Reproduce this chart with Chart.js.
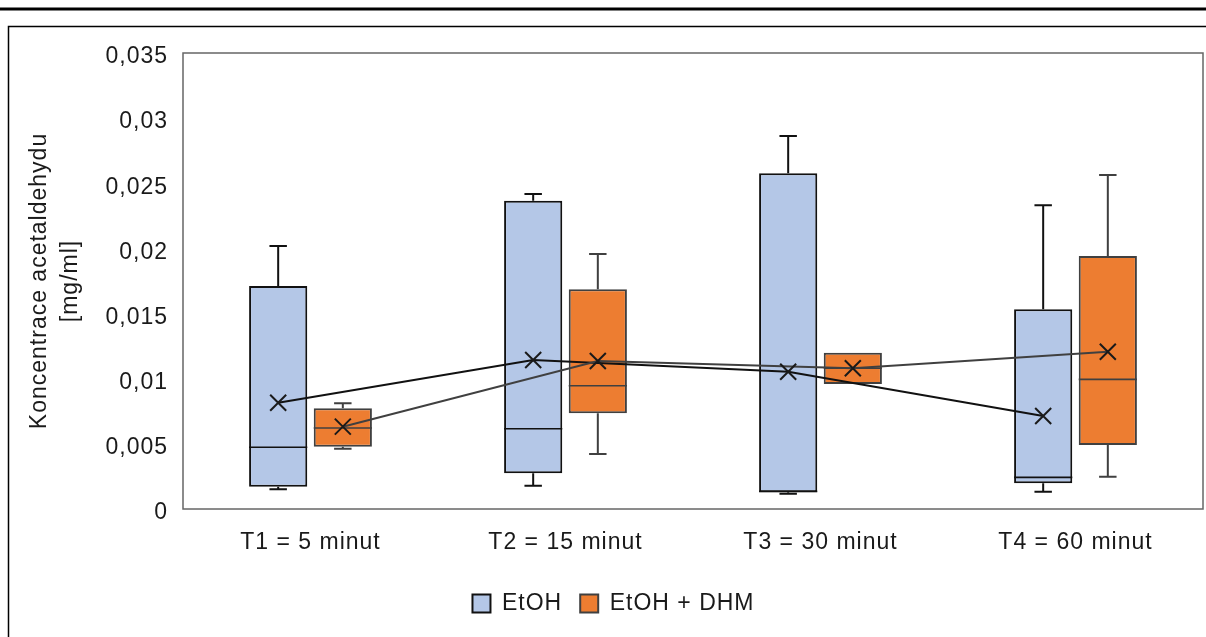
<!DOCTYPE html>
<html>
<head>
<meta charset="utf-8">
<script src="https://cdn.jsdelivr.net/npm/chart.js@4.4.1/dist/chart.umd.min.js"></script>
<style>
  html, body { margin: 0; padding: 0; background: #fff; }
  #wrap { width: 1206px; height: 637px; }
</style>
</head>
<body>
<div id="wrap"><canvas id="grafico"></canvas></div>
<script>
const categories = ['T1 = 5 minut', 'T2 = 15 minut', 'T3 = 30 minut', 'T4 = 60 minut']
const seriesNames = ['EtOH', 'EtOH + DHM']

// EtOH
const etohMin    = [0.00151, 0.00179, 0.00118, 0.00133]
const etohQ1     = [0.00171, 0.00274, 0.00128, 0.00197]
const etohMedian = [0.00474, 0.00616, 0.00135, 0.00243]
const etohQ3     = [0.01712, 0.02366, 0.02577, 0.01533]
const etohMax    = [0.02019, 0.02418, 0.02863, 0.02331]
const etohMean   = [0.00816, 0.01144, 0.01054, 0.00714]

// EtOH + DHM
const dhmMin    = [0.00463, 0.00422, 0.00959, 0.00248]
const dhmQ1     = [0.00478, 0.00735, 0.00959, 0.00491]
const dhmMedian = [0.00622, 0.00946, 0.01080, 0.00995]
const dhmQ3     = [0.00773, 0.01686, 0.01200, 0.01942]
const dhmMax    = [0.00811, 0.01957, 0.01200, 0.02563]
const dhmMean   = [0.00632, 0.01136, 0.01080, 0.01207]

const yTicks = [0, 0.005, 0.01, 0.015, 0.02, 0.025, 0.03, 0.035]
const yTickLabels = ['0', '0,005', '0,01', '0,015', '0,02', '0,025', '0,03', '0,035']

const stats = [
  {min: etohMin, median: etohMedian, max: etohMax, mean: etohMean, stroke: '#111111'},
  {min: dhmMin, median: dhmMedian, max: dhmMax, mean: dhmMean, stroke: '#404040'}
]

const fontFam = '"Liberation Sans", Arial, sans-serif'
const spacing = '1px' // the original text is set a bit wide

// canvas state gets reset on resize, so set spacing again each time
const spacingPlugin = {
  id: 'spacing',
  beforeLayout(chart) { chart.ctx.letterSpacing = spacing },
  beforeDraw(chart) { chart.ctx.letterSpacing = spacing }
}

// frame around the whole figure + plot border
const framePlugin = {
  id: 'frame',
  beforeDraw(chart) {
    const c = chart.ctx
    c.save()
    c.fillStyle = '#fff'
    c.fillRect(0, 0, chart.width, chart.height)
    c.strokeStyle = '#000'
    c.lineWidth = 3
    c.beginPath(); c.moveTo(0, 9); c.lineTo(chart.width, 9); c.stroke()
    c.lineWidth = 1.5
    c.beginPath()
    c.moveTo(8.5, chart.height); c.lineTo(8.5, 26.5); c.lineTo(chart.width, 26.5)
    c.stroke()
    c.restore()
  },
  beforeDatasetsDraw(chart) {
    const a = chart.chartArea, c = chart.ctx
    c.save()
    c.strokeStyle = '#666666'
    c.lineWidth = 1.5
    c.strokeRect(a.left, a.top, a.right - a.left, a.bottom - a.top)
    c.restore()
  }
}

// whiskers, medians, means
const boxPlugin = {
  id: 'boxextra',
  afterDatasetsDraw(chart) {
    const c = chart.ctx
    const y = chart.scales.y
    c.save()
    stats.forEach((s, d) => {
      const meta = chart.getDatasetMeta(d)
      const q1 = chart.data.datasets[d].data.map(v => v[0])
      const q3 = chart.data.datasets[d].data.map(v => v[1])
      c.strokeStyle = s.stroke
      c.lineWidth = 2
      meta.data.forEach((bar, i) => {
        const w = bar.width
        const cap = w * 0.15
        const yMax = y.getPixelForValue(s.max[i]), yQ3 = y.getPixelForValue(q3[i])
        const yMin = y.getPixelForValue(s.min[i]), yQ1 = y.getPixelForValue(q1[i])
        c.beginPath()
        if (yQ3 - yMax > 0.5) {
          c.moveTo(bar.x, yQ3); c.lineTo(bar.x, yMax)
          c.moveTo(bar.x - cap, yMax); c.lineTo(bar.x + cap, yMax)
        }
        if (yMin - yQ1 > 0.5) {
          c.moveTo(bar.x, yQ1); c.lineTo(bar.x, yMin)
          c.moveTo(bar.x - cap, yMin); c.lineTo(bar.x + cap, yMin)
        }
        c.stroke()
        const ym = y.getPixelForValue(s.median[i])
        c.lineWidth = 1.6
        c.beginPath(); c.moveTo(bar.x - w / 2, ym); c.lineTo(bar.x + w / 2, ym); c.stroke()
        c.lineWidth = 2
      })
    })
    // mean lines and X markers
    stats.forEach((s, d) => {
      const meta = chart.getDatasetMeta(d)
      c.strokeStyle = d === 0 ? '#111111' : '#404040'
      c.lineWidth = 2
      c.beginPath()
      meta.data.forEach((bar, i) => {
        const py = y.getPixelForValue(s.mean[i])
        if (i === 0) c.moveTo(bar.x, py); else c.lineTo(bar.x, py)
      })
      c.stroke()
    })
    stats.forEach((s, d) => {
      const meta = chart.getDatasetMeta(d)
      c.strokeStyle = '#1a1a1a'
      c.lineWidth = 2
      meta.data.forEach((bar, i) => {
        const py = y.getPixelForValue(s.mean[i]), r = 8
        c.beginPath()
        c.moveTo(bar.x - r, py - r); c.lineTo(bar.x + r, py + r)
        c.moveTo(bar.x - r, py + r); c.lineTo(bar.x + r, py - r)
        c.stroke()
      })
    })
    c.restore()
  }
}

document.addEventListener('DOMContentLoaded', () => {
  const ctx = document.getElementById('grafico')
  new Chart(ctx, {
    type: 'bar',
    data: {
      labels: categories,
      datasets: [{
        label: seriesNames[0],
        data: etohQ1.map((v, i) => [v, etohQ3[i]]),
        backgroundColor: '#b4c7e7',
        borderColor: '#111111',
        borderWidth: 2,
        borderSkipped: false,
        barPercentage: 0.9,
        categoryPercentage: 0.507
      }, {
        label: seriesNames[1],
        data: dhmQ1.map((v, i) => [v, dhmQ3[i]]),
        backgroundColor: '#ed7d31',
        borderColor: '#404040',
        borderWidth: 2,
        borderSkipped: false,
        barPercentage: 0.9,
        categoryPercentage: 0.507
      }]
    },
    options: {
      responsive: true,
      maintainAspectRatio: false,
      animation: false,
      layout: { padding: { left: 24, right: 3, top: 53, bottom: 12 } },
      plugins: {
        tooltip: { enabled: false },
        legend: {
          position: 'bottom',
          labels: {
            color: '#1a1a1a',
            font: { family: fontFam, size: 23 },
            boxWidth: 18,
            boxHeight: 18,
            padding: 18,
            useBorderRadius: false
          }
        }
      },
      scales: {
        x: {
          grid: { display: false, drawTicks: false },
          border: { display: false },
          ticks: { color: '#1a1a1a', font: { family: fontFam, size: 23 }, padding: 20, maxRotation: 0 },
          afterFit(scale) { scale.height = 65 }
        },
        y: {
          min: 0,
          max: 0.035,
          grid: { display: false, drawTicks: false },
          border: { display: false },
          afterBuildTicks(scale) { scale.ticks = yTicks.map(v => ({ value: v })) },
          ticks: {
            color: '#1a1a1a',
            font: { family: fontFam, size: 23 },
            padding: 15,
            labelOffset: 4,
            callback: (v, i) => yTickLabels[i]
          },
          title: {
            display: true,
            text: ['Koncentrace acetaldehydu', '[mg/ml]'],
            color: '#1a1a1a',
            font: { family: fontFam, size: 23, lineHeight: 1.35 },
            padding: { top: 0, bottom: 0 }
          },
          afterFit(scale) { scale.width = 159 }
        }
      }
    },
    plugins: [spacingPlugin, framePlugin, boxPlugin]
  })
})
</script>
</body>
</html>
